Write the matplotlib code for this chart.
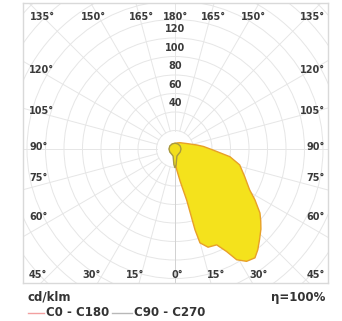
import numpy as np
import matplotlib
matplotlib.use('Agg')
import matplotlib.pyplot as plt
from matplotlib.projections.polar import PolarAxes
from matplotlib.transforms import Affine2D
from matplotlib.patches import Circle
from matplotlib.lines import Line2D

plt.rcParams.update({'font.family': 'DejaVu Sans', 'font.weight': 'bold'})

# %% photometric data (angle from nadir in deg, + towards C0 side ; cd/klm)
c0_ang = [-180, -150, -120, -90, -60, -30, -10, 0, 3, 5, 9, 12.9, 13.9, 14.9, 18.6,
          23.5, 26.7, 29.1, 32.5, 36.3, 39.4, 43, 47, 50, 53, 57.5, 61.3, 68.4,
          76.2, 82, 88.5, 95, 100.4, 115, 141.6, 160, 180]
c0_val = [6, 6, 6, 6, 6, 6, 6, 12, 18, 23, 35, 57, 90, 105, 112,
          113, 124, 137, 144, 146, 141, 134, 127, 121, 115, 102.5, 92, 81,
          72, 60, 41, 31, 24, 14, 8.7, 7, 6]

c90_ang = [-180, -150, -120, -90, -60, -30, -15, -8, -4, 0, 4, 8, 15, 30, 60, 90,
           120, 150, 180]
c90_val = [6.3, 6.3, 6.5, 6.5, 6.5, 6.8, 8, 12, 17, 20.5, 17, 12, 8, 6.8, 6.5, 6.5,
           6.5, 6.3, 6.3]

ring_vals = [20, 40, 60, 80, 100, 120, 140, 160, 180, 200, 220, 240]
ring_labels = [40, 60, 80, 100, 120]
spoke_ang = np.arange(0, 360, 15)

top_labels = ['135°', '150°', '165°', '180°', '165°', '150°', '135°']
side_labels = ['120°', '105°', '90°', '75°', '60°', '45°']
bottom_labels = ['30°', '15°', '0°', '15°', '30°']

# %% figure
W, H = 342, 321
fig = plt.figure(figsize=(W/100, H/100), dpi=100)
fig.patch.set_facecolor('white')


def px(x, y):
    return x/W, 1 - y/H


ax = fig.add_axes([23/W, 1 - 283/H, 305/W, 280/H])
k = 0.925  # pixels per cd/klm
ax.set_xlim(-152/k, 153/k)
ax.set_ylim(-134/k, 146/k)
ax.set_xticks([])
ax.set_yticks([])
for s in ax.spines.values():
    s.set_color('#d9d9d9')
    s.set_linewidth(1.0)

polar = (Affine2D().scale(np.pi/180, 1).translate(-np.pi/2, 0)
         + PolarAxes.PolarTransform(apply_theta_transforms=False) + ax.transData)

gridc = '#e6e6e6'
for r in ring_vals:
    ax.add_patch(Circle((0, 0), r, fill=False, ec=gridc, lw=0.7, zorder=1))
for a in spoke_ang:
    ax.plot([a, a], [20, 400], color=gridc, lw=0.7, transform=polar, zorder=1)
ax.plot([0, 0], [0, 400], color='#d2d2d2', lw=0.7, transform=polar, zorder=1)

# curves
ax.fill(c0_ang, c0_val, facecolor='#f4e21c', edgecolor='#e8a028', lw=1.0,
        joinstyle='round', transform=polar, zorder=3)
ax.fill(c90_ang, c90_val, facecolor='#f2de1c', edgecolor='#a89a40', lw=1.0,
        transform=polar, zorder=4)

for v in ring_labels:
    ax.text(0, v + 9.5, str(v), ha='center', va='center', fontsize=7,
            color='#3a3a3a', zorder=5)

# angle labels
tc = '#3a3a3a'
top_x = [30, 94, 141, 176, 213, 254, 325]
for i, (lab, x) in enumerate(zip(top_labels, top_x)):
    ha = 'left' if i == 0 else ('right' if i == len(top_labels) - 1 else 'center')
    fig.text(*px(x, 17.5), lab, ha=ha, va='center', fontsize=7, color=tc)
side_y = [70, 111, 147.5, 178, 217, 275]
for lab, y in zip(side_labels, side_y):
    fig.text(*px(29, y), lab, ha='left', va='center', fontsize=7, color=tc)
    fig.text(*px(325, y), lab, ha='right', va='center', fontsize=7, color=tc)
bottom_x = [92, 135, 177, 216, 259]
for lab, x in zip(bottom_labels, bottom_x):
    fig.text(*px(x, 275), lab, ha='center', va='center', fontsize=7, color=tc)

# footer
fig.text(*px(27, 297), 'cd/klm', ha='left', va='center', fontsize=8.5, color='#333333')
fig.text(*px(325, 297), 'η=100%', ha='right', va='center', fontsize=8.5, color='#333333')
x0, y0 = px(28, 313)
x1, _ = px(44, 313)
fig.add_artist(Line2D([x0, x1], [y0, y0], color='#f2a0a0', lw=1.0, transform=fig.transFigure))
fig.text(*px(46, 313), 'C0 - C180', ha='left', va='center', fontsize=8.5, color='#333333')
x0, _ = px(112, 313)
x1, _ = px(132, 313)
fig.add_artist(Line2D([x0, x1], [y0, y0], color='#b8b8b8', lw=1.0, transform=fig.transFigure))
fig.text(*px(134, 313), 'C90 - C270', ha='left', va='center', fontsize=8.5, color='#333333')

fig.savefig('out.png', dpi=100)
